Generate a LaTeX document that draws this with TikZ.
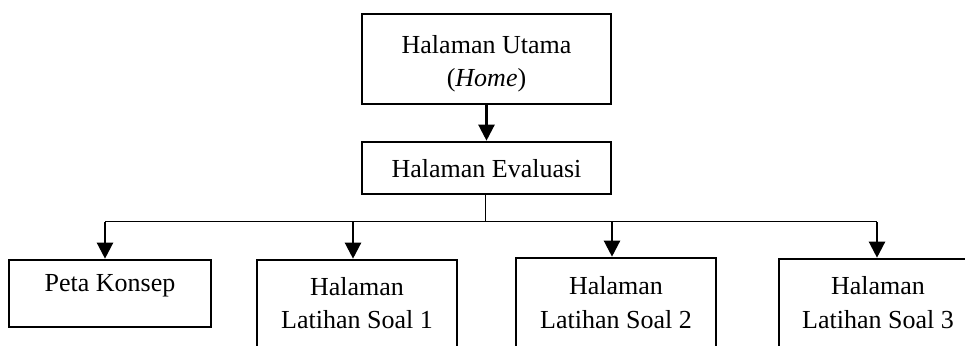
\documentclass[tikz,border=0pt]{standalone}
\usepackage{fontspec}
\setmainfont{Liberation Serif}
\usetikzlibrary{arrows.meta}
\begin{document}
\begin{tikzpicture}[x=1pt,y=1pt,
  box/.style={draw=black, line width=2.6pt, rectangle, inner sep=0pt},
  lbl/.style={inner sep=0pt, align=center, font=\fontsize{26}{33.5}\selectfont},
  arr/.style={line width=2.3pt, -{Triangle[length=16pt,width=16pt]}},
  bus/.style={line width=1pt}]
\useasboundingbox (0,0) rectangle (965,345);
\clip (0,0) rectangle (965,345);
% boxes
\node[box, minimum width=249pt, minimum height=90pt] (home) at (486.5,286) {};
\node[box, minimum width=249pt, minimum height=52pt] (eval) at (486.5,177) {};
\node[box, minimum width=202pt, minimum height=67pt] (peta) at (110,51.5) {};
\node[box, minimum width=200pt, minimum height=90pt] (s1) at (357,40) {};
\node[box, minimum width=200pt, minimum height=90pt] (s2) at (616,42) {};
\node[box, minimum width=198pt, minimum height=90pt] (s3) at (878,41) {};
% texts
\node[lbl, anchor=north] (homet) at (486.5,310) {Halaman Utama\\(\textit{Home})};
\node[lbl, anchor=north] (evalt) at (486.5,185.5) {Halaman Evaluasi};
\node[lbl, anchor=north] (petat) at (110,70.5) {Peta Konsep};
\node[lbl, anchor=north] (s1t) at (357,68) {Halaman\\Latihan Soal 1};
\node[lbl, anchor=north] (s2t) at (616,68.5) {Halaman\\Latihan Soal 2};
\node[lbl, anchor=north] (s3t) at (878,68.5) {Halaman\\Latihan Soal 3};
% connectors
\draw[arr] (home.south) -- (eval.north);
\coordinate (busm) at (485,123);
\coordinate (c1) at (105,123);
\coordinate (c2) at (353,123);
\coordinate (c3) at (612,123);
\coordinate (c4) at (877,123);
\draw[bus] (eval.south -| busm) -- (busm);
\draw[bus] (c1) -- (c4);
\draw[arr] (c1) -- (c1 |- peta.north);
\draw[arr] (c2) -- (c2 |- s1.north);
\draw[arr] (c3) -- (c3 |- s2.north);
\draw[arr] (c4) -- (c4 |- s3.north);
\end{tikzpicture}
\end{document}
